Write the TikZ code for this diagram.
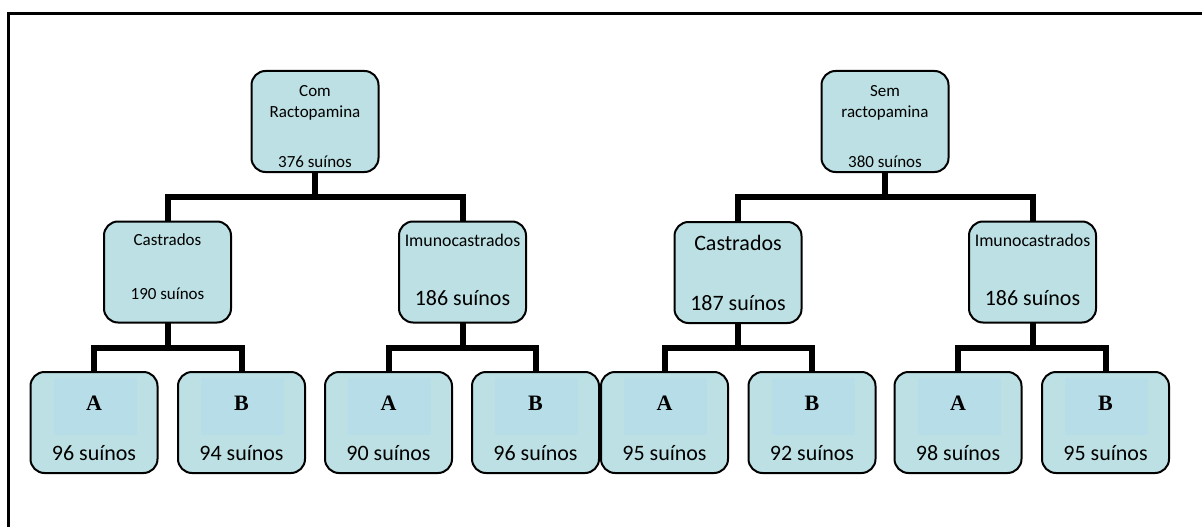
\documentclass[tikz,border=0pt]{standalone}
\usepackage{fontspec}
\setmainfont{Carlito}
\newfontfamily\abfont{Liberation Serif}
\definecolor{boxfill}{RGB}{188,224,227}
\definecolor{innerfill}{RGB}{183,221,232}
\begin{document}
\begin{tikzpicture}[x=1pt,y=-1pt,
  box/.style={draw=black,line width=2pt,fill=boxfill,rounded corners=14pt,
    minimum width=127pt,minimum height=101pt,inner sep=0pt,outer sep=0pt},
  inner/.style={fill=innerfill,inner sep=0pt,minimum width=83pt,minimum height=57pt},
  link/.style={line width=6pt},
  sm/.style={font=\fontsize{17}{20}\selectfont,anchor=base,inner sep=0pt},
  md/.style={font=\fontsize{17.8}{21}\selectfont,anchor=base,inner sep=0pt},
  lg/.style={font=\fontsize{22}{25}\selectfont,anchor=base,inner sep=0pt},
  ab/.style={font=\abfont\bfseries\fontsize{22}{26}\selectfont,anchor=base,inner sep=0pt}]
\useasboundingbox (0,0) rectangle (1202,527);
% frame
\draw[line width=3pt] (8.5,527) -- (8.5,13.5) -- (1202,13.5);
% top nodes
\node[box] (tl) at (315,121.5) {};
\node[box] (tr) at (885,121.5) {};
% mid nodes
\node[box] (cl) at (167.5,272) {};
\node[box] (il) at (462.5,272) {};
\node[box] (cr) at (738,272.5) {};
\node[box] (ir) at (1032.5,272) {};
% leaves
\node[box] (l1) at (94,422.5) {};
\node[box] (l2) at (241.5,422.5) {};
\node[box] (l3) at (388.5,422.5) {};
\node[box] (l4) at (535.5,422.5) {};
\node[box] (l5) at (664.5,422.5) {};
\node[box] (l6) at (812,422.5) {};
\node[box] (l7) at (958,422.5) {};
\node[box] (l8) at (1105.5,422.5) {};
\foreach \n in {l1,l2,l3,l4,l5,l6,l7,l8}{
  \node[inner] (\n in) at ([xshift=1pt,yshift=-34.5pt]\n.north) {};
}
% connectors
\coordinate (jtl) at (315,197);
\coordinate (jtr) at (885,197);
\coordinate (jcl) at (167.5,348);
\coordinate (jil) at (462.5,348);
\coordinate (jcr) at (738,348);
\coordinate (jir) at (1032.5,348);
\draw[link] (tl.south) -- (jtl);
\draw[link] (cl.north) |- (jtl) -| (il.north);
\draw[link] (tr.south) -- (jtr);
\draw[link] (cr.north) |- (jtr) -| (ir.north);
\draw[link] (cl.south) -- (jcl);
\draw[link] (l1.north) |- (jcl) -| (l2.north);
\draw[link] (il.south) -- (jil);
\draw[link] (l3.north) |- (jil) -| (l4.north);
\draw[link] (cr.south) -- (jcr);
\draw[link] (l5.north) |- (jcr) -| (l6.north);
\draw[link] (ir.south) -- (jir);
\draw[link] (l7.north) |- (jir) -| (l8.north);
% texts top
\node[sm] (tl1) at (315,96) {Com};
\node[sm] (tl2) at (315,117) {Ractopamina};
\node[sm] (tl3) at (315,167) {376 suínos};
\node[sm] (tr1) at (885,96) {Sem};
\node[sm] (tr2) at (885,117) {ractopamina};
\node[sm] (tr3) at (885,167) {380 suínos};
% texts mid
\node[sm] (cl1) at (167.5,245) {Castrados};
\node[sm] (cl2) at (167.5,299) {190 suínos};
\node[md] (il1) at (462.5,246) {Imunocastrados};
\node[lg] (il2) at (462.5,305) {186 suínos};
\node[lg] (cr1) at (738,250) {Castrados};
\node[lg] (cr2) at (738,310) {187 suínos};
\node[md] (ir1) at (1032.5,246) {Imunocastrados};
\node[lg] (ir2) at (1032.5,305) {186 suínos};
% leaf texts
\node[ab] (a1) at (94,410) {A};
\node[lg] (n1) at (94,460) {96 suínos};
\node[ab] (a2) at (241.5,410) {B};
\node[lg] (n2) at (241.5,460) {94 suínos};
\node[ab] (a3) at (388.5,410) {A};
\node[lg] (n3) at (388.5,460) {90 suínos};
\node[ab] (a4) at (535.5,410) {B};
\node[lg] (n4) at (535.5,460) {96 suínos};
\node[ab] (a5) at (664.5,410) {A};
\node[lg] (n5) at (664.5,460) {95 suínos};
\node[ab] (a6) at (812,410) {B};
\node[lg] (n6) at (812,460) {92 suínos};
\node[ab] (a7) at (958,410) {A};
\node[lg] (n7) at (958,460) {98 suínos};
\node[ab] (a8) at (1105.5,410) {B};
\node[lg] (n8) at (1105.5,460) {95 suínos};
\end{tikzpicture}
\end{document}
